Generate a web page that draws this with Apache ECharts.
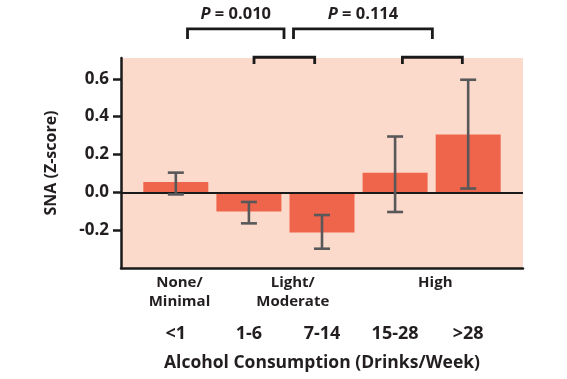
<!DOCTYPE html>
<html>
<head>
<meta charset="utf-8">
<script src="https://cdn.jsdelivr.net/npm/echarts@6/dist/echarts.min.js"></script>
<style>
html,body{margin:0;padding:0;background:#fff;}
#c{width:567px;height:379px;}
</style>
</head>
<body>
<div id="c"></div>
<script>
// ---- data ----
const categories = ['<1', '1-6', '7-14', '15-28', '>28'];
const groupLabels = ['None/\nMinimal', 'Light/\nModerate', 'High'];
const groupPositions = [0.05, 1.6, 3.55];
const snaValues = [0.055, -0.102, -0.213, 0.104, 0.306];
const ciLow = [-0.011, -0.164, -0.298, -0.104, 0.02];
const ciHigh = [0.104, -0.051, -0.12, 0.295, 0.595];
const yTickValues = [-0.2, 0, 0.2, 0.4, 0.6];
// comparison brackets (x in category index units, y in Z-score units)
const bracketStart = [0.16, 1.61, 1.07, 3.10];
const bracketEnd = [1.48, 3.51, 1.90, 3.92];
const bracketLevel = [0.864, 0.864, 0.714, 0.714];
const bracketLegEnd = [0.81, 0.81, 0.678, 0.678];
const pLabels = ['P = 0.010', 'P = 0.114'];
const pLabelLevel = 0.943;

const FONT = '"Open Sans", "Liberation Sans", sans-serif';
const TXT = '#231f20';

const chart = echarts.init(document.getElementById('c'), null, {renderer: 'canvas'});

const barData = categories.map((c, i) => [i, snaValues[i]]);
const errData = categories.map((c, i) => [i, ciLow[i], ciHigh[i]]);
const bracketData = bracketStart.map((s, i) => [s, bracketEnd[i], bracketLevel[i], bracketLegEnd[i], i < pLabels.length ? i : -1]);

const option = {
  animation: false,
  grid: {
    left: 121, right: 44, top: 58, bottom: 111,
    show: true, backgroundColor: '#fcdacb', borderWidth: 0
  },
  xAxis: [
    {
      type: 'value', min: -0.75, max: 4.75, position: 'bottom',
      axisLine: {show: true, onZero: false, lineStyle: {color: '#1a1a1a', width: 2.5}},
      axisTick: {show: false},
      splitLine: {show: false},
      axisLabel: {
        customValues: [0, 1, 2, 3, 4],
        formatter: v => categories[Math.round(v)],
        margin: 57, fontSize: 18, fontWeight: 700, fontFamily: FONT, color: TXT
      },
      name: 'Alcohol Consumption (Drinks/Week)',
      nameLocation: 'middle', nameGap: 86,
      nameTextStyle: {fontSize: 17.5, fontWeight: 700, fontFamily: FONT, color: TXT}
    },
    {
      type: 'value', min: -0.75, max: 4.75, position: 'bottom', offset: 0,
      axisLine: {show: false}, axisTick: {show: false}, splitLine: {show: false},
      axisLabel: {
        customValues: groupPositions,
        formatter: v => groupLabels[groupPositions.indexOf(v)],
        margin: 5, fontSize: 15, lineHeight: 19, fontWeight: 700, fontFamily: FONT, color: TXT
      }
    }
  ],
  yAxis: {
    type: 'value', min: -0.4, max: 0.71,
    axisLine: {show: true, onZero: false, lineStyle: {color: '#1a1a1a', width: 2.5}},
    axisTick: {show: true, customValues: yTickValues, length: 8, lineStyle: {color: '#1a1a1a', width: 2.5}},
    splitLine: {show: false},
    axisLabel: {
      customValues: yTickValues,
      formatter: v => v.toFixed(1),
      margin: 12, fontSize: 17, fontWeight: 700, fontFamily: FONT, color: TXT
    },
    name: 'SNA (Z-score)', nameLocation: 'middle', nameGap: 62,
    nameTextStyle: {fontSize: 16, fontWeight: 700, fontFamily: FONT, color: TXT}
  },
  series: [
    {
      type: 'bar', xAxisIndex: 0, data: barData, barWidth: 65,
      itemStyle: {color: '#ef654b'},
      markLine: {
        silent: true, symbol: 'none', label: {show: false},
        lineStyle: {color: '#1a1a1a', width: 2.2, type: 'solid'},
        data: [{yAxis: 0}]
      },
      z: 2
    },
    {
      type: 'custom', xAxisIndex: 0, data: errData, z: 5,
      renderItem: (params, api) => {
        const x = api.value(0);
        const lo = api.coord([x, api.value(1)]);
        const hi = api.coord([x, api.value(2)]);
        const hw = 8;
        const st = {stroke: '#58585a', lineWidth: 2.6, fill: null};
        return {type: 'group', children: [
          {type: 'line', shape: {x1: lo[0], y1: lo[1], x2: hi[0], y2: hi[1]}, style: st},
          {type: 'line', shape: {x1: lo[0] - hw, y1: lo[1], x2: lo[0] + hw, y2: lo[1]}, style: st},
          {type: 'line', shape: {x1: hi[0] - hw, y1: hi[1], x2: hi[0] + hw, y2: hi[1]}, style: st}
        ]};
      }
    },
    {
      type: 'custom', xAxisIndex: 0, data: bracketData, clip: false, z: 6,
      renderItem: (params, api) => {
        const a = api.coord([api.value(0), api.value(2)]);
        const b = api.coord([api.value(1), api.value(2)]);
        const legY = api.coord([api.value(0), api.value(3)])[1];
        const children = [{
          type: 'polyline',
          shape: {points: [[a[0], legY], [a[0], a[1]], [b[0], b[1]], [b[0], legY]]},
          style: {stroke: '#1a1a1a', lineWidth: 2.8, fill: null}
        }];
        const li = api.value(4);
        if (li >= 0) {
          const t = api.coord([(api.value(0) + api.value(1)) / 2, pLabelLevel]);
          const s = pLabels[li];
          children.push({
            type: 'text', x: t[0], y: t[1],
            style: {
              text: '{i|P}' + s.slice(1),
              align: 'center', verticalAlign: 'middle',
              fontSize: 16.5, fontWeight: 700, fontFamily: FONT, fill: TXT,
              rich: {i: {fontStyle: 'italic', fontSize: 16.5, fontWeight: 700, fontFamily: FONT, color: TXT}}
            }
          });
        }
        return {type: 'group', children};
      }
    }
  ]
};
chart.setOption(option);
</script>
</body>
</html>
